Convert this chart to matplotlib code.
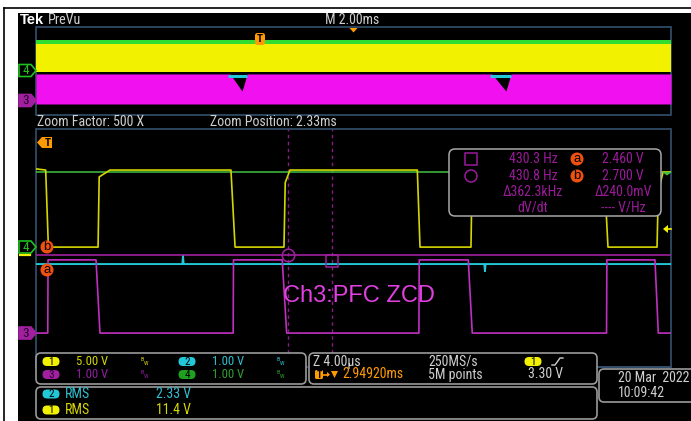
import matplotlib
matplotlib.use('Agg')
import matplotlib.pyplot as plt
from matplotlib.patches import Rectangle, FancyBboxPatch, Polygon, Circle
from matplotlib import font_manager as fm

# ---------------- data ----------------
# Zoomed window: time in microseconds (4 us/div, 10 div), level in screen divisions (0 bottom .. 8 top)
ch1_t = [0.0, 0.61, 0.78, 3.91, 3.98, 4.66, 12.28, 12.54, 15.62, 15.70, 16.00, 24.02, 24.19,
         27.40, 27.47, 28.10, 35.78, 36.03, 39.12, 39.20, 39.50, 40.0]
ch1_v = [6.66, 6.62, 4.03, 4.03, 6.39, 6.62, 6.62, 4.03, 4.03, 6.20, 6.62, 6.62, 4.03,
         4.03, 6.39, 6.62, 6.62, 4.03, 4.03, 5.90, 6.55, 6.55]
ch3_t = [0.0, 0.74, 0.76, 3.78, 4.03, 12.42, 12.44, 15.51, 15.79, 24.12, 24.14, 27.23, 27.48,
         35.94, 35.96, 38.99, 39.20, 40.0]
ch3_v = [1.14, 1.14, 3.60, 3.60, 1.14, 1.14, 3.60, 3.60, 1.14, 1.14, 3.60, 3.60, 1.14,
         1.14, 3.60, 3.60, 1.14, 1.14]
ch2_t = [0.0, 9.22, 9.26, 9.30, 28.24, 28.28, 28.32, 40.0]
ch2_v = [3.46, 3.46, 3.72, 3.46, 3.46, 3.22, 3.46, 3.46]
ch4_t = [0.0, 40.0]
ch4_v = [6.55, 6.55]
cursor_t = [15.87, 18.65]
cursor_level = 3.76
cursor_mark_v = [3.76, 3.56]

# PreVu (full record): time in ms (2 ms/div), level in divisions
prevu_t = [0.0, 20.0]
green_top, green_bot = 6.82, 6.36
yellow_bot = 3.91
magenta_top, magenta_bot = 3.73, 1.0
dip_start = [6.11, 14.36]
dip_apex = [6.49, 14.80]
dip_end = [6.65, 14.96]
dip_depth = 2.18
cyan_cap = 3.55

# texts
meas_col1 = ["430.3 Hz", "430.8 Hz", "\u0394362.3kHz", "dV/dt"]
meas_col2 = ["2.460 V", "2.700 V", "\u0394240.0mV", "---- V/Hz"]
scale_ch = ["1", "2", "3", "4"]
scale_val = ["5.00 V", "1.00 V", "1.00 V", "1.00 V"]
rms_ch = ["2", "1"]
rms_val = ["2.33 V", "11.4 V"]

# ---------------- fonts ----------------
def have(name):
    try:
        fm.findfont(fm.FontProperties(family=name), fallback_to_default=False)
        return True
    except Exception:
        return False

if have('Liberation Sans Narrow'):
    BASE = 'Liberation Sans Narrow'; FS = 10.2
elif have('Roboto Condensed'):
    BASE = 'Roboto Condensed'; FS = 10.0
else:
    BASE = 'Liberation Sans'; FS = 8.4
FAM = [BASE, 'DejaVu Sans']
plt.rcParams['font.family'] = FAM

# ---------------- colours ----------------
C_YEL = '#f2f200'; C_YEL_T = '#d6d600'
C_MAG = '#f010f0'; C_MAG_T = '#c030c0'
C_CYA = '#22c8d8'; C_GRN = '#30dd30'; C_GRN_T = '#40c040'
C_BORD = '#34506e'; C_BOX = '#9a9a9a'; C_TXT = '#cfcfcf'
C_PUR = '#a020a0'; C_MEAS = '#9a1a9a'; C_ORG = '#ff9a00'; C_RED = '#f05010'

fig = plt.figure(figsize=(6.91, 4.21), dpi=100, facecolor='white')

def pix_axes(z):
    a = fig.add_axes([0, 0, 1, 1], zorder=z)
    a.set_xlim(0, 691); a.set_ylim(421, 0); a.axis('off')
    a.patch.set_alpha(0)
    return a

bg = pix_axes(0)
ov = pix_axes(3)

# frame / screen
bg.add_patch(Rectangle((18, 13), 680, 420, facecolor='black', edgecolor='none'))
bg.plot([4, 691], [7.5, 7.5], color='black', lw=1.2)
bg.plot([4.5, 4.5], [7.5, 421], color='black', lw=1.2)

# panel borders
bg.add_patch(Rectangle((36, 27), 635, 88, facecolor='none', edgecolor=C_BORD, lw=1.2))
bg.add_patch(Rectangle((36, 129), 635, 238, facecolor='none', edgecolor=C_BORD, lw=1.2))

def fx(x): return x / 691
def fy(y): return 1 - y / 421

# ---------------- PreVu panel ----------------
ax_p = fig.add_axes([fx(36), fy(115), 635 / 691, 88 / 421], zorder=1)
ax_p.set_xlim(0, 20); ax_p.set_ylim(0, 8); ax_p.axis('off'); ax_p.patch.set_alpha(0)
ax_p.fill_between(prevu_t, [green_bot] * 2, [green_top] * 2, color=C_GRN, lw=0)
ax_p.fill_between(prevu_t, [yellow_bot] * 2, [green_bot + 0.1] * 2, color=C_YEL, lw=0)
env_t = [prevu_t[0]]
env_v = [magenta_top]
for s, a, e in zip(dip_start, dip_apex, dip_end):
    env_t += [s, a, e]
    env_v += [magenta_top, dip_depth, magenta_top]
env_t.append(prevu_t[1]); env_v.append(magenta_top)
ax_p.fill_between(env_t, [magenta_bot] * len(env_t), env_v, color=C_MAG, lw=0)
for s, e in zip(dip_start, dip_end):
    ax_p.plot([s - 0.05, e], [cyan_cap, cyan_cap], color=C_CYA, lw=2.2, solid_capstyle='butt')

# ---------------- zoomed panel ----------------
ax = fig.add_axes([fx(36), fy(367), 635 / 691, 238 / 421], zorder=1)
ax.set_xlim(0, 40); ax.set_ylim(0, 8); ax.axis('off'); ax.patch.set_alpha(0)
for ct in cursor_t:
    ax.axvline(ct, color='#8a1a8a', lw=1.0, dashes=(2.5, 2.5))
ax.axhline(cursor_level, color=C_PUR, lw=1.2)
ax.plot(ch4_t, ch4_v, color=C_GRN_T, lw=1.1)
ax.plot(ch1_t, ch1_v, color=C_YEL_T, lw=1.2)
ax.plot(ch2_t, ch2_v, color=C_CYA, lw=1.4)
ax.plot(ch3_t, ch3_v, color=C_MAG_T, lw=1.2)
ax.plot([cursor_t[0]], [cursor_mark_v[0]], marker='o', ms=9, mfc='none', mec=C_PUR, mew=1.1)
ax.plot([cursor_t[1]], [cursor_mark_v[1]], marker='s', ms=8.5, mfc='none', mec=C_PUR, mew=1.1)

# ---------------- overlay text & widgets ----------------
def txt(x, y, s, color=C_TXT, size=None, ha='left', weight='normal', family=None, a=ov):
    a.text(x, y, s, color=color, fontsize=size or FS, ha=ha, va='center', fontweight=weight,
           family=family or FAM)

def pill(x, y, label, fc, tc='black'):
    ov.add_patch(FancyBboxPatch((x - 8.5, y - 4.5), 17, 9,
                                boxstyle='round,pad=0,rounding_size=4.5', fc=fc, ec='none'))
    txt(x, y + 0.3, label, color=tc, size=8, ha='center')

def rbox(x0, y0, x1, y1, r=5, fc='black', ec=C_BOX, lw=1.2):
    ov.add_patch(FancyBboxPatch((x0, y0), x1 - x0, y1 - y0,
                                boxstyle=f'round,pad=0,rounding_size={r}', fc=fc, ec=ec, lw=lw))

def marker_right(y, label, filled, color, x0=19):
    pts = [(x0, y - 6), (x0 + 12, y - 6), (x0 + 17, y), (x0 + 12, y + 6), (x0, y + 6)]
    ov.add_patch(Polygon(pts, closed=True, fc=color if filled else 'black', ec=color, lw=1.2))
    txt(x0 + 6.5, y + 0.5, label, color='#2a002a' if filled else color, size=FS * 0.95, ha='center')

def bw(x, y, color):
    ov.text(x, y, r'$\mathregular{{}^{B}{}_{W}}$', color=color, fontsize=6, ha='left', va='center')

# header
txt(20, 20, 'Tek', color='white', size=10.5, weight='bold', family=['Liberation Sans', 'DejaVu Sans'])
txt(48, 20, 'PreVu', color=C_TXT, size=FS * 1.02)
txt(325, 20, 'M 2.00ms', color=C_TXT)
ov.add_patch(Polygon([(349.5, 28), (357.5, 28), (353.5, 32.5)], closed=True, fc=C_ORG, ec='none'))
# trigger T in PreVu
ov.add_patch(FancyBboxPatch((255, 33), 10, 12, boxstyle='round,pad=0,rounding_size=2.5', fc=C_ORG, ec='none'))
txt(260, 39.5, 'T', color='black', size=8, ha='center', weight='bold')

marker_right(70.5, '4', False, '#20c020')
marker_right(100.5, '3', True, C_PUR)

txt(37, 122, 'Zoom Factor: 500 X', color=C_TXT)
txt(210, 122, 'Zoom Position: 2.33ms', color=C_TXT)

# zoom panel markers
ov.add_patch(Polygon([(37, 142.5), (42, 137), (52, 137), (52, 148), (42, 148)], closed=True,
                     fc=C_ORG, ec='none'))
txt(47.5, 143, 'T', color='black', size=8, ha='center', weight='bold')
marker_right(247, '4', False, '#20c020')
ov.plot([20, 30], [255, 255], color=C_YEL, lw=1.6)
marker_right(333, '3', True, C_PUR)
for yy, lab in [(247, 'b'), (270, 'a')]:
    ov.add_patch(Circle((47, yy), 6.5, fc=C_RED, ec='none'))
    txt(47, yy, lab, color='black', size=9.5, ha='center', family=['Liberation Sans', 'DejaVu Sans'])
# yellow trigger-level arrow / green edge mark on right
ov.add_patch(Polygon([(663, 229), (668, 225), (668, 233)], closed=True, fc=C_YEL, ec='none'))
ov.plot([666, 671], [229, 229], color=C_YEL, lw=1.2)
ov.add_patch(Polygon([(662, 172), (672, 172), (667, 175.5)], closed=True, fc=C_GRN_T, ec='none'))

# measurement readout
rbox(449, 149, 661, 216, r=6, fc='black', ec='#a8a8a8', lw=1.1)
ov.add_patch(Rectangle((465, 153), 12, 12, fc='none', ec=C_MEAS, lw=1.1))
ov.add_patch(Circle((471, 176), 6, fc='none', ec=C_MEAS, lw=1.1))
rows_y = [159, 176, 192, 207]
for yy, s1, s2 in zip(rows_y, meas_col1, meas_col2):
    txt(533, yy, s1, color=C_MEAS, ha='center')
    txt(623, yy, s2, color=C_MEAS, ha='center')
for yy, lab in [(159, 'a'), (176, 'b')]:
    ov.add_patch(Circle((577, yy), 6.5, fc=C_RED, ec='none'))
    txt(577, yy, lab, color='black', size=9.5, ha='center', family=['Liberation Sans', 'DejaVu Sans'])

txt(283, 296, 'Ch3:PFC ZCD', color='#e040e0', size=17, family=['Liberation Sans', 'DejaVu Sans'])

# bottom info boxes
rbox(36, 353, 306, 384)
rbox(309, 353, 597, 384)
rbox(36, 387, 597, 419)
rbox(599, 369, 700, 402)
ov.plot([597, 671], [367, 367], color=C_BORD, lw=1.2, zorder=0.5)

pill_fc = {'1': C_YEL, '2': C_CYA, '3': C_PUR, '4': '#20a020'}
val_c = {'1': '#d6d600', '2': '#30c0d0', '3': '#9020a0', '4': '#30a030'}
pos = {'1': (51, 361.5), '2': (187, 361.5), '3': (51, 374.5), '4': (187, 374.5)}
for ch, val in zip(scale_ch, scale_val):
    px, py = pos[ch]
    pill(px, py, ch, pill_fc[ch], tc='#2a002a' if ch == '3' else 'black')
    txt(px + 25, py, val, color=val_c[ch], size=FS * 0.91)
    bw(px + 89, py, val_c[ch])

for yy, ch, val in zip([394, 410], rms_ch, rms_val):
    pill(51, yy, ch, pill_fc[ch])
    txt(65, yy, 'RMS', color=val_c[ch])
    txt(156, yy, val, color=val_c[ch])

txt(313, 362, 'Z 4.00\u00b5s', color=C_TXT)
ov.add_patch(FancyBboxPatch((315, 370), 8, 9, boxstyle='round,pad=0,rounding_size=1.5', fc=C_ORG, ec='none'))
txt(319, 375, 'T', color='black', size=7, ha='center', weight='bold')
ov.plot([323.5, 328], [374.5, 374.5], color=C_ORG, lw=1.2)
ov.add_patch(Polygon([(327, 372), (330, 374.5), (327, 377)], closed=True, fc=C_ORG, ec='none'))
ov.add_patch(Polygon([(331, 371), (338, 371), (334.5, 378)], closed=True, fc=C_ORG, ec='none'))
txt(342, 374, '2.94920ms', color=C_ORG)
txt(428, 362, '250MS/s', color=C_TXT)
txt(428, 374.5, '5M points', color=C_TXT)
pill(533, 361.5, '1', C_YEL)
ov.plot([552, 555, 560, 563], [365, 365, 358, 358], color=C_TXT, lw=1.0)
txt(528, 374.5, '3.30 V', color=C_TXT)
txt(618, 378, '20 Mar  2022', color=C_TXT)
txt(618, 393, '10:09:42', color=C_TXT)

fig.savefig('out.png', dpi=100, facecolor='white')
